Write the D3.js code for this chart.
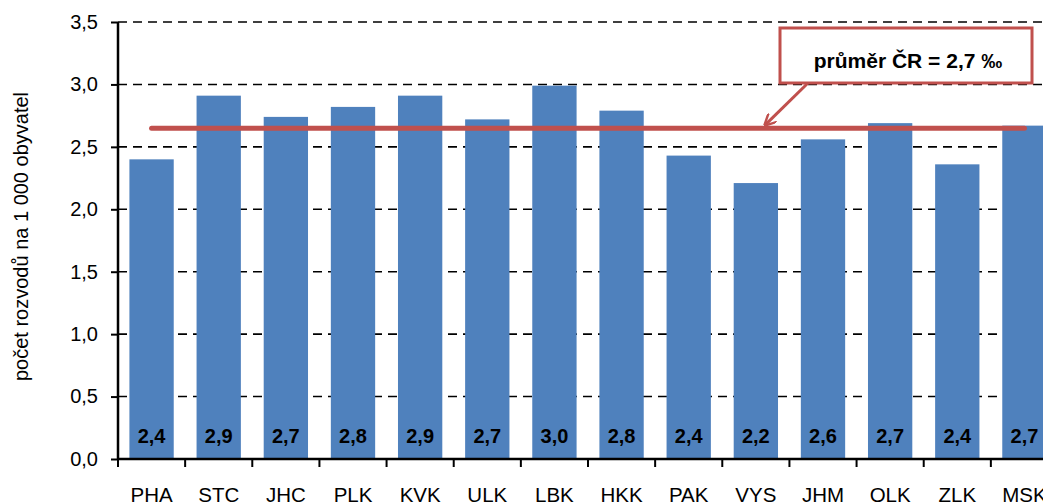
<!DOCTYPE html>
<html>
<head>
<meta charset="utf-8">
<script src="https://cdn.jsdelivr.net/npm/d3@7"></script>
<style>
  body { margin: 0; background: #fff; overflow: hidden; }
  text { font-family: "Liberation Sans", Arial, sans-serif; }
</style>
</head>
<body>
<div id="chart"></div>
<script>
// data
var regions = ["PHA", "STC", "JHC", "PLK", "KVK", "ULK", "LBK", "HKK", "PAK", "VYS", "JHM", "OLK", "ZLK", "MSK"];
var divorces = [2.40, 2.91, 2.74, 2.82, 2.91, 2.72, 2.99, 2.79, 2.43, 2.21, 2.56, 2.69, 2.36, 2.67];
var barLabels = ["2,4", "2,9", "2,7", "2,8", "2,9", "2,7", "3,0", "2,8", "2,4", "2,2", "2,6", "2,7", "2,4", "2,7"];
var yTicks = [0, 0.5, 1, 1.5, 2, 2.5, 3, 3.5];
var average = 2.65;
var avgLabel = "průměr ČR = 2,7 ‰";
var yTitle = "počet rozvodů na 1 000 obyvatel";

var margin = { top: 22, right: 0, bottom: 45, left: 118 };
var width = 940, height = 437;

var svg = d3.select("#chart").append("svg")
	.attr("width", 1043)
	.attr("height", 504)
	.append("g")
	.attr("transform", "translate(" + margin.left + "," + margin.top + ")");

var x = d3.scaleBand()
	.domain(regions)
	.range([0, width])
	.paddingInner(0.34)
	.paddingOuter(0.17);

var y = d3.scaleLinear()
	.domain([0, 3.5])
	.range([height, 0]);

var fmt = function(d) { return d3.format(".1f")(d).replace(".", ","); };

// grid
svg.selectAll(".grid")
	.data(yTicks.filter(function(d) { return d > 0; }))
	.enter().append("line")
	.attr("class", "grid")
	.attr("x1", 0).attr("x2", width)
	.attr("y1", function(d) { return y(d); })
	.attr("y2", function(d) { return y(d); })
	.attr("stroke", "#000")
	.attr("stroke-width", 1.6)
	.attr("stroke-dasharray", "9,6");

// bars
svg.selectAll(".bar")
	.data(regions)
	.enter().append("rect")
	.attr("class", "bar")
	.attr("x", function(d) { return x(d); })
	.attr("width", x.bandwidth())
	.attr("y", function(d, i) { return y(divorces[i]); })
	.attr("height", function(d, i) { return height - y(divorces[i]); })
	.attr("fill", "#4F81BD");

svg.selectAll(".bar-label")
	.data(regions)
	.enter().append("text")
	.attr("class", "bar-label")
	.attr("x", function(d) { return x(d) + x.bandwidth() / 2; })
	.attr("y", height - 16)
	.attr("text-anchor", "middle")
	.attr("font-size", "20px")
	.attr("font-weight", "bold")
	.text(function(d, i) { return barLabels[i]; });

// axes
var yAxis = d3.axisLeft(y).tickValues(yTicks).tickFormat(fmt).tickSize(7).tickPadding(13);
var gy = svg.append("g").attr("class", "y-axis").call(yAxis);
gy.select(".domain").remove();
gy.selectAll("line").attr("stroke", "#000").attr("stroke-width", 2);
gy.selectAll("text").attr("font-size", "20px").attr("fill", "#000");
gy.append("line").attr("x1", 0).attr("x2", 0).attr("y1", 0).attr("y2", height)
	.attr("stroke", "#000").attr("stroke-width", 2.5);

var step = x.step();
var boundaries = d3.range(regions.length + 1).map(function(i) { return i * step; });
var gx = svg.append("g").attr("class", "x-axis").attr("transform", "translate(0," + height + ")");
gx.append("line").attr("x1", 0).attr("x2", width).attr("stroke", "#000").attr("stroke-width", 2.5);
gx.selectAll(".xt").data(boundaries).enter().append("line")
	.attr("x1", function(d) { return d; }).attr("x2", function(d) { return d; })
	.attr("y1", 0).attr("y2", 8)
	.attr("stroke", "#000").attr("stroke-width", 2);
gx.selectAll(".xl").data(regions).enter().append("text")
	.attr("x", function(d) { return x(d) + x.bandwidth() / 2; })
	.attr("y", 43)
	.attr("text-anchor", "middle")
	.attr("font-size", "20.5px")
	.text(function(d) { return d; });

// average line
svg.append("line")
	.attr("x1", x(regions[0]) + x.bandwidth() / 2)
	.attr("x2", x(regions[regions.length - 1]) + x.bandwidth() / 2)
	.attr("y1", y(average)).attr("y2", y(average))
	.attr("stroke", "#C0504D")
	.attr("stroke-width", 5)
	.attr("stroke-linecap", "round");

// callout
var defs = svg.append("defs");
defs.append("marker")
	.attr("id", "arrow")
	.attr("viewBox", "0 0 10 10")
	.attr("refX", 9).attr("refY", 5)
	.attr("markerWidth", 4).attr("markerHeight", 4)
	.attr("orient", "auto")
	.append("path")
	.attr("d", "M0,0 L10,5 L0,10")
	.attr("fill", "none")
	.attr("stroke", "#C0504D")
	.attr("stroke-width", 2);

svg.append("line")
	.attr("x1", 690).attr("y1", 61)
	.attr("x2", 647).attr("y2", y(average) - 3)
	.attr("stroke", "#C0504D")
	.attr("stroke-width", 3)
	.attr("marker-end", "url(#arrow)");

svg.append("rect")
	.attr("x", 662).attr("y", 6)
	.attr("width", 252).attr("height", 55)
	.attr("fill", "#fff")
	.attr("stroke", "#C0504D")
	.attr("stroke-width", 3);

svg.append("text")
	.attr("x", 790).attr("y", 46)
	.attr("text-anchor", "middle")
	.attr("font-size", "21px")
	.attr("font-weight", "bold")
	.text(avgLabel);

// y title
svg.append("text")
	.attr("transform", "translate(-90," + (height / 2 - 4) + ") rotate(-90)")
	.attr("text-anchor", "middle")
	.attr("font-size", "20px")
	.text(yTitle);
</script>
</body>
</html>
